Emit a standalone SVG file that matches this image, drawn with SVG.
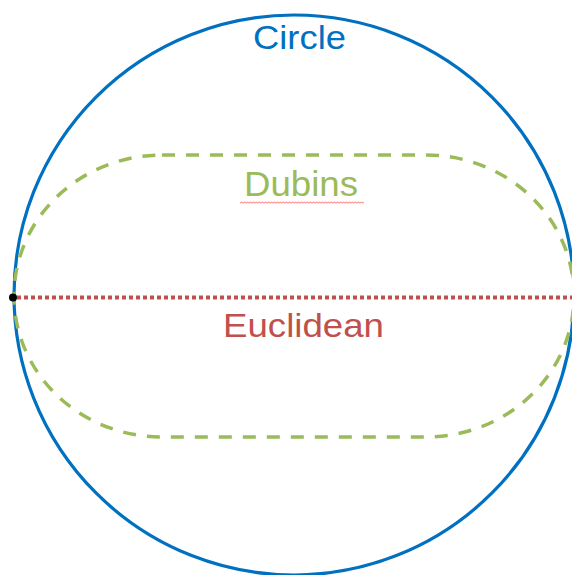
<svg xmlns="http://www.w3.org/2000/svg" width="572" height="575" viewBox="0 0 572 575">
  <style>
    .lbl { font-family: "Liberation Sans", Arial, sans-serif; text-anchor: middle; }
    .circle { fill: none; stroke: #0070C0; stroke-width: 3.2; }
    .dubins { fill: none; stroke: #9BBB59; stroke-width: 3.5; stroke-dasharray: 13 11; }
    .euclid { fill: none; stroke: #C0504D; stroke-width: 4; stroke-dasharray: 4 3; }
  </style>
  <defs>
    <!-- spell-check style wavy underline -->
    <pattern id="squig" x="240" y="201" width="3" height="3" patternUnits="userSpaceOnUse">
      <polyline points="0,2.5 1.5,0.8 3,2.5" fill="none" stroke="#FF3B3B" stroke-width="0.8"/>
    </pattern>
  </defs>
  <rect width="572" height="575" fill="#ffffff"/>

  <g id="circle">
    <circle class="circle" cx="294" cy="295" r="280"/>
    <text class="lbl" x="299.5" y="49" font-size="33" fill="#0070C0" textLength="93" lengthAdjust="spacingAndGlyphs">Circle</text>
  </g>

  <g id="dubins">
    <rect class="dubins" x="14" y="155" width="560" height="282" rx="148" ry="141"/>
    <text class="lbl" x="301" y="196" font-size="35" fill="#9BBB59" textLength="114" lengthAdjust="spacingAndGlyphs">Dubins</text>
    <rect x="240" y="201" width="124" height="3" fill="url(#squig)"/>
  </g>

  <g id="euclidean">
    <line class="euclid" x1="17" y1="297.5" x2="572" y2="297.5"/>
    <text class="lbl" x="303.5" y="337" font-size="34" fill="#C0504D" textLength="161" lengthAdjust="spacingAndGlyphs">Euclidean</text>
  </g>

  <g id="origin">
    <circle cx="13" cy="297.5" r="4" fill="#000000"/>
  </g>
</svg>
